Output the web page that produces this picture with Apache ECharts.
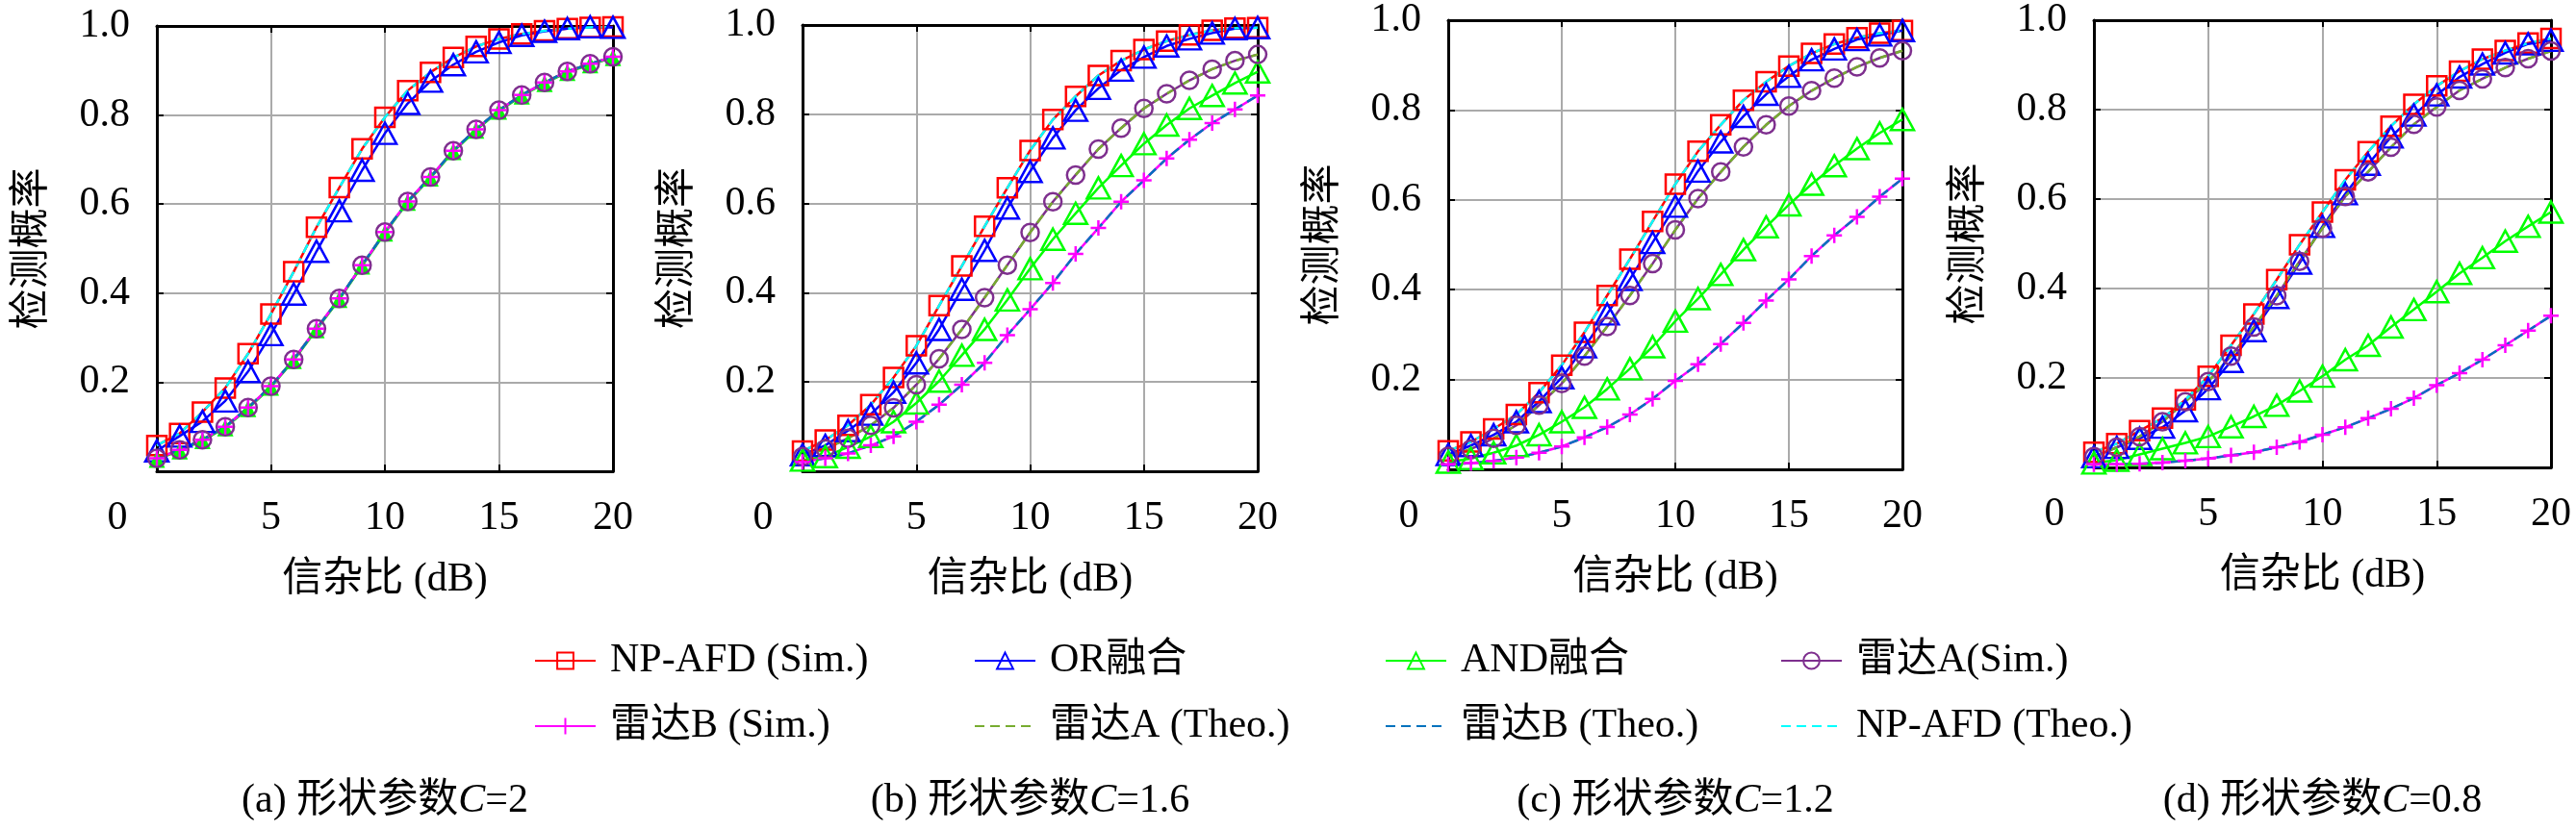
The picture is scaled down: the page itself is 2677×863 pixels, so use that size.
<!DOCTYPE html>
<html>
<head>
<meta charset="utf-8">
<script src="https://cdn.jsdelivr.net/npm/echarts@6/dist/echarts.min.js"></script>
<style>
  html, body { margin: 0; padding: 0; background: #fff; }
  #main { width: 2677px; height: 863px; }
</style>
</head>
<body>
<div id="main"></div>
<script>
// x axis: SNR in dB
const snr = [0, 1, 2, 3, 4, 5, 6, 7, 8, 9, 10, 11, 12, 13, 14, 15, 16, 17, 18, 19, 20];
const xTicks = [0, 5, 10, 15, 20];
const yTicks = [0.2, 0.4, 0.6, 0.8, 1.0];

// (a) C = 2
const c20_np  = [0.058, 0.085, 0.133, 0.187, 0.264, 0.353, 0.448, 0.548, 0.637, 0.724, 0.795, 0.855, 0.896, 0.929, 0.954, 0.971, 0.982, 0.989, 0.994, 0.997, 0.998];
const c20_or  = [0.046, 0.079, 0.112, 0.158, 0.224, 0.307, 0.398, 0.494, 0.585, 0.676, 0.759, 0.826, 0.876, 0.913, 0.942, 0.963, 0.979, 0.988, 0.994, 0.998, 0.997];
const c20_and = [0.027, 0.046, 0.069, 0.098, 0.141, 0.189, 0.249, 0.318, 0.386, 0.461, 0.535, 0.604, 0.659, 0.718, 0.766, 0.809, 0.843, 0.871, 0.896, 0.913, 0.929];
const c20_ra  = [0.029, 0.048, 0.071, 0.100, 0.143, 0.191, 0.251, 0.320, 0.388, 0.463, 0.537, 0.606, 0.661, 0.720, 0.768, 0.811, 0.845, 0.873, 0.898, 0.915, 0.931];
const c20_rb  = [0.029, 0.048, 0.071, 0.100, 0.143, 0.191, 0.251, 0.320, 0.388, 0.463, 0.537, 0.606, 0.661, 0.720, 0.768, 0.811, 0.845, 0.873, 0.898, 0.915, 0.931];

// (b) C = 1.6
const c16_np  = [0.045, 0.070, 0.103, 0.149, 0.210, 0.281, 0.371, 0.460, 0.549, 0.635, 0.719, 0.788, 0.840, 0.887, 0.920, 0.945, 0.964, 0.978, 0.988, 0.993, 0.994];
const c16_or  = [0.037, 0.058, 0.091, 0.128, 0.177, 0.243, 0.318, 0.408, 0.495, 0.590, 0.672, 0.747, 0.809, 0.858, 0.899, 0.928, 0.953, 0.969, 0.982, 0.992, 0.994];
const c16_and = [0.025, 0.033, 0.054, 0.078, 0.111, 0.153, 0.202, 0.260, 0.318, 0.384, 0.454, 0.520, 0.578, 0.635, 0.685, 0.734, 0.776, 0.813, 0.842, 0.870, 0.895];
const c16_ra  = [0.033, 0.050, 0.074, 0.103, 0.142, 0.194, 0.252, 0.318, 0.389, 0.462, 0.535, 0.604, 0.664, 0.722, 0.769, 0.813, 0.846, 0.876, 0.901, 0.920, 0.934];
const c16_rb  = [0.021, 0.029, 0.040, 0.058, 0.078, 0.111, 0.149, 0.194, 0.243, 0.305, 0.363, 0.422, 0.487, 0.545, 0.604, 0.652, 0.701, 0.743, 0.780, 0.811, 0.842];

// (c) C = 1.2
const c12_np  = [0.041, 0.061, 0.090, 0.122, 0.171, 0.232, 0.305, 0.387, 0.468, 0.552, 0.635, 0.708, 0.767, 0.822, 0.863, 0.898, 0.926, 0.947, 0.961, 0.971, 0.977];
const c12_or  = [0.033, 0.053, 0.077, 0.106, 0.151, 0.204, 0.273, 0.346, 0.423, 0.505, 0.586, 0.664, 0.729, 0.786, 0.835, 0.875, 0.912, 0.936, 0.957, 0.967, 0.977];
const c12_and = [0.016, 0.024, 0.037, 0.053, 0.077, 0.106, 0.138, 0.179, 0.224, 0.273, 0.330, 0.380, 0.434, 0.489, 0.540, 0.589, 0.635, 0.676, 0.714, 0.749, 0.779];
const c12_ra  = [0.029, 0.045, 0.069, 0.098, 0.143, 0.191, 0.252, 0.318, 0.387, 0.458, 0.533, 0.603, 0.662, 0.718, 0.767, 0.809, 0.843, 0.871, 0.896, 0.916, 0.932];
const c12_rb  = [0.011, 0.014, 0.019, 0.026, 0.037, 0.051, 0.071, 0.094, 0.122, 0.157, 0.197, 0.234, 0.279, 0.326, 0.376, 0.423, 0.475, 0.521, 0.562, 0.607, 0.647];

// (d) C = 0.8
const c08_np  = [0.034, 0.053, 0.082, 0.110, 0.151, 0.204, 0.273, 0.343, 0.420, 0.498, 0.571, 0.643, 0.706, 0.763, 0.812, 0.853, 0.886, 0.913, 0.932, 0.949, 0.959];
const c08_or  = [0.024, 0.045, 0.065, 0.090, 0.127, 0.176, 0.237, 0.306, 0.380, 0.457, 0.539, 0.612, 0.678, 0.739, 0.788, 0.833, 0.873, 0.902, 0.927, 0.947, 0.955];
const c08_and = [0.010, 0.016, 0.029, 0.042, 0.055, 0.069, 0.091, 0.114, 0.139, 0.171, 0.204, 0.241, 0.273, 0.314, 0.353, 0.393, 0.434, 0.469, 0.506, 0.539, 0.571];
const c08_ra  = [0.024, 0.045, 0.069, 0.102, 0.147, 0.192, 0.249, 0.314, 0.384, 0.461, 0.535, 0.606, 0.661, 0.716, 0.767, 0.806, 0.843, 0.869, 0.894, 0.914, 0.931];
const c08_rb  = [0.007, 0.007, 0.008, 0.011, 0.015, 0.020, 0.027, 0.034, 0.045, 0.057, 0.073, 0.090, 0.110, 0.131, 0.155, 0.184, 0.211, 0.241, 0.273, 0.306, 0.339];

const panelTags = ['(a)', '(b)', '(c)', '(d)'];
const shapeC = ['2', '1.6', '1.2', '0.8'];
const panels = [
  { np: c20_np, or: c20_or, and: c20_and, ra: c20_ra, rb: c20_rb },
  { np: c16_np, or: c16_or, and: c16_and, ra: c16_ra, rb: c16_rb },
  { np: c12_np, or: c12_or, and: c12_and, ra: c12_ra, rb: c12_rb },
  { np: c08_np, or: c08_or, and: c08_and, ra: c08_ra, rb: c08_rb }
];

const FONT = "'Liberation Serif', 'Noto Sans CJK SC', serif";
const FS = 42;

// plot boxes in px
const boxes = [
  { left: 163, top: 27, width: 474, height: 463 },
  { left: 834, top: 26, width: 473, height: 464 },
  { left: 1505, top: 18, width: 472, height: 470 },
  { left: 2176, top: 17, width: 475, height: 469 }
];

const pts = arr => snr.map((x, i) => [x, arr[i]]);
const plusPath = 'path://M5,0V10M0,5H10';

const grid = [], xAxis = [], yAxis = [], series = [];

boxes.forEach((b, i) => {
  grid.push({ left: b.left, top: b.top, width: b.width, height: b.height, containLabel: false });

  const line = { show: true, onZero: false, lineStyle: { color: '#000', width: 3 } };
  const tick = { show: true, inside: true, length: 7, lineStyle: { color: '#000', width: 2 } };

  xAxis.push({
    gridIndex: i, type: 'value', min: xTicks[0], max: xTicks[xTicks.length - 1], interval: 5,
    position: 'bottom', axisLine: line, axisTick: tick,
    splitLine: { show: true, lineStyle: { color: '#aaaaaa', width: 2 } },
    axisLabel: {
      margin: 28, color: '#000', fontSize: FS, fontFamily: FONT,
      formatter: v => v === 0 ? '{z|0}' : String(v),
      rich: { z: { padding: [0, 82, 0, 0], fontSize: FS, fontFamily: FONT, color: '#000' } }
    },
    name: '信杂比 (dB)', nameLocation: 'middle', nameGap: 92,
    nameTextStyle: { color: '#000', fontSize: FS, fontFamily: FONT }
  });
  xAxis.push({
    gridIndex: i, type: 'value', min: 0, max: 20, interval: 5, position: 'top',
    axisLine: line, axisTick: tick, axisLabel: { show: false }, splitLine: { show: false }
  });
  yAxis.push({
    gridIndex: i, type: 'value', min: 0, max: yTicks[yTicks.length - 1], interval: 0.2,
    position: 'left', axisLine: line, axisTick: tick,
    splitLine: { show: true, lineStyle: { color: '#aaaaaa', width: 2 } },
    axisLabel: {
      margin: 28, color: '#000', fontSize: FS, fontFamily: FONT,
      formatter: v => v < 0.01 ? '' : v.toFixed(1)
    },
    name: '检测概率', nameLocation: 'middle', nameGap: 108,
    nameTextStyle: { color: '#000', fontSize: FS, fontFamily: FONT }
  });
  yAxis.push({
    gridIndex: i, type: 'value', min: 0, max: 1, interval: 0.2, position: 'right',
    axisLine: line, axisTick: tick, axisLabel: { show: false }, splitLine: { show: false }
  });
});

function simSeries(name, i, data, color, symbol, size, filled) {
  return {
    name, type: 'line', xAxisIndex: 2 * i, yAxisIndex: 2 * i,
    data: pts(data), symbol, symbolSize: size, showAllSymbol: true,
    lineStyle: { color, width: 2.5 },
    itemStyle: { color: filled ? color : 'rgba(0,0,0,0)', borderColor: color, borderWidth: filled ? 0 : 2.5 },
    emphasis: { disabled: true }
  };
}
function theoSeries(name, i, data, color) {
  return {
    name, type: 'line', xAxisIndex: 2 * i, yAxisIndex: 2 * i,
    data: pts(data), symbol: 'none',
    lineStyle: { color, width: 2.5, type: [10, 6] },
    itemStyle: { color },
    emphasis: { disabled: true }
  };
}

// panel (a) is pushed last so the legend takes its icons from the hollow-marker panels
[1, 2, 3, 0].forEach(i => {
  const p = panels[i];
  series.push(simSeries('NP-AFD (Sim.)', i, p.np, '#ff0000', 'rect', 20, false));
  series.push(simSeries('OR融合', i, p.or, '#0000ff', 'triangle', [24, 22], false));
  if (i === 0) series.push(simSeries('AND融合', i, p.and, '#00ff00', 'triangle', [17, 18], true));
  else series.push(simSeries('AND融合', i, p.and, '#00ff00', 'triangle', [24, 22], false));
  series.push(simSeries('雷达A(Sim.)', i, p.ra, '#7e2f8e', 'circle', 18, false));
  series.push(simSeries('雷达B (Sim.)', i, p.rb, '#ff00ff', plusPath, 16, false));
  series.push(theoSeries('雷达A (Theo.)', i, p.ra, '#77ac30'));
  series.push(theoSeries('雷达B (Theo.)', i, p.rb, '#0072bd'));
  series.push(theoSeries('NP-AFD (Theo.)', i, p.np, '#00ffff'));
});

const theoNames = ['雷达A (Theo.)', '雷达B (Theo.)', 'NP-AFD (Theo.)'];
const legendCols = [
  { left: 555, names: ['NP-AFD (Sim.)', '雷达B (Sim.)'] },
  { left: 1012, names: ['OR融合', '雷达A (Theo.)'] },
  { left: 1439, names: ['AND融合', '雷达B (Theo.)'] },
  { left: 1850, names: ['雷达A(Sim.)', 'NP-AFD (Theo.)'] }
];

const centers = boxes.map(b => b.left + b.width / 2);

const chart = echarts.init(document.getElementById('main'), null, { renderer: 'canvas' });
chart.setOption({
  backgroundColor: '#ffffff',
  animation: false,
  grid, xAxis, yAxis, series,
  legend: legendCols.map(c => ({
    left: c.left, top: 666, orient: 'vertical', padding: 0,
    data: c.names.map(n => theoNames.includes(n)
      ? { name: n, itemStyle: { opacity: 0 } }
      : { name: n }),
    itemWidth: 63, itemHeight: 21, itemGap: 26,
    selectedMode: false,
    textStyle: { color: '#000', fontSize: FS, fontFamily: FONT, lineHeight: 42, padding: [0, 0, 0, 10] }
  })),
  graphic: centers.map((cx, i) => ({
    type: 'text', x: cx, y: 833,
    style: {
      text: panelTags[i] + ' 形状参数{i|C}=' + shapeC[i],
      fontSize: FS, fontFamily: FONT, fill: '#000',
      align: 'center', verticalAlign: 'middle',
      rich: { i: { fontStyle: 'italic', fontSize: FS, fontFamily: FONT, fill: '#000' } }
    }
  }))
});
</script>
</body>
</html>
